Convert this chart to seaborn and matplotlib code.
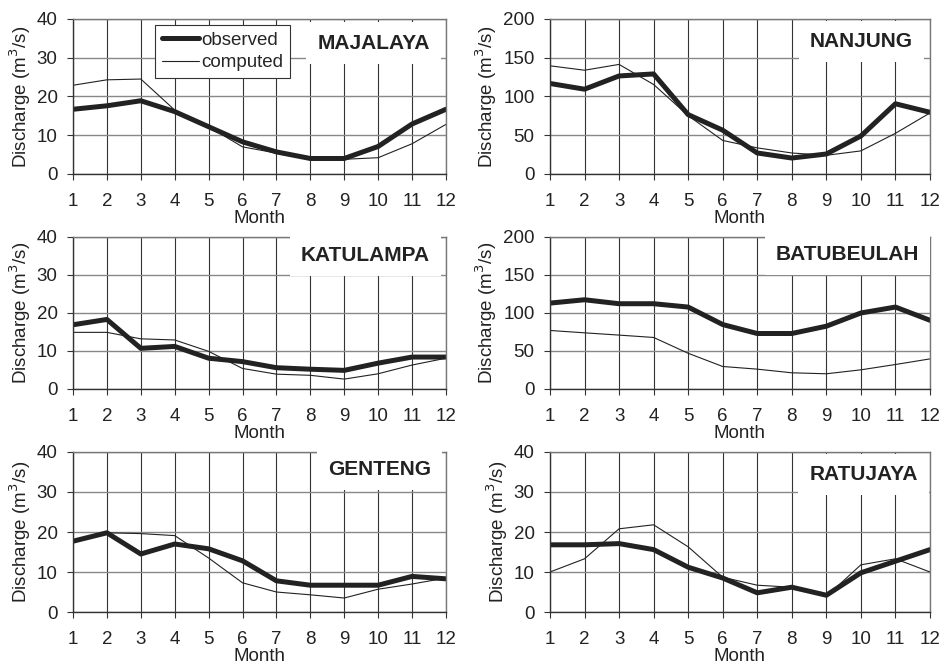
# Monthly discharge: observed vs computed at six stations
import pandas as pd
import seaborn as sns
import matplotlib
matplotlib.use("Agg")
import matplotlib.pyplot as plt

# ==========================
# Data
# ==========================
months = list(range(1, 13))

majalaya_obs = [16.7, 17.6, 18.9, 16.1, 12.2, 8.3, 5.7, 4.0, 4.0, 7.1, 12.9, 16.7]
majalaya_com = [22.9, 24.3, 24.5, 16.5, 12.2, 7.0, 5.4, 3.8, 3.8, 4.2, 7.8, 12.8]

nanjung_obs = [116.8, 109.4, 126.5, 129.1, 76.6, 56.5, 27.1, 20.6, 25.8, 49.0, 90.6, 79.6]
nanjung_com = [139.6, 133.9, 141.4, 115.5, 75.3, 43.3, 33.7, 27.1, 24.1, 29.8, 52.5, 78.8]

katulampa_obs = [16.9, 18.3, 10.7, 11.2, 8.1, 7.2, 5.6, 5.2, 4.9, 6.8, 8.4, 8.4]
katulampa_com = [14.9, 14.9, 13.2, 12.9, 9.9, 5.4, 3.9, 3.6, 2.6, 4.0, 6.3, 8.1]

batubeulah_obs = [113.0, 117.4, 112.2, 112.2, 107.8, 84.8, 73.0, 73.0, 82.6, 100.0, 107.8, 90.4]
batubeulah_com = [77.0, 73.9, 70.9, 67.8, 47.0, 29.6, 26.1, 21.3, 20.0, 25.2, 32.2, 39.6]

genteng_obs = [17.7, 19.8, 14.5, 17.0, 15.8, 12.8, 7.8, 6.7, 6.7, 6.7, 8.9, 8.3]
genteng_com = [17.5, 19.8, 19.6, 19.1, 13.5, 7.3, 5.0, 4.3, 3.5, 5.7, 7.0, 8.5]

ratujaya_obs = [16.8, 16.8, 17.1, 15.6, 11.2, 8.5, 4.8, 6.2, 4.2, 9.8, 12.7, 15.6]
ratujaya_com = [10.0, 13.3, 20.8, 21.8, 16.3, 8.7, 6.7, 6.2, 3.9, 11.8, 13.3, 10.0]

stations = ["MAJALAYA", "NANJUNG", "KATULAMPA", "BATUBEULAH", "GENTENG", "RATUJAYA"]
observed = [majalaya_obs, nanjung_obs, katulampa_obs, batubeulah_obs, genteng_obs, ratujaya_obs]
computed = [majalaya_com, nanjung_com, katulampa_com, batubeulah_com, genteng_com, ratujaya_com]
y_max = [40, 200, 40, 200, 40, 40]
y_step = [10, 50, 10, 50, 10, 10]

# ==========================
# Style
# ==========================
sns.set_style("white")
plt.rcParams["font.family"] = ["Liberation Sans", "DejaVu Sans"]

fig = plt.figure(figsize=(9.43, 6.71), dpi=100)

# axes boxes in figure fractions [left, bottom, width, height]
col_x = [(0.0774, 0.3955), (0.5832, 0.4030)]
row_y = [(0.7407, 0.2310), (0.4203, 0.2265), (0.0879, 0.2385)]
# where each station name sits inside its panel (axes fractions)
name_pos = [(0.957, 0.845), (0.955, 0.855), (0.957, 0.88),
            (0.972, 0.885), (0.96, 0.89), (0.968, 0.86)]

for i, name in enumerate(stations):
    r, c = divmod(i, 2)
    ax = fig.add_axes([col_x[c][0], row_y[r][0], col_x[c][1], row_y[r][1]])

    df = pd.DataFrame({
        "Month": months * 2,
        "Discharge": observed[i] + computed[i],
        "series": ["observed"] * 12 + ["computed"] * 12,
    })

    sns.lineplot(data=df, x="Month", y="Discharge", hue="series", size="series",
                 palette={"observed": "#222222", "computed": "#222222"},
                 sizes={"observed": 3.6, "computed": 0.8},
                 ax=ax, legend=(i == 0))

    ax.set_xlim(1, 12)
    ax.set_ylim(0, y_max[i])
    ax.set_xticks(months)
    ax.set_yticks(range(0, y_max[i] + 1, y_step[i]))

    # grid: dark vertical lines, grey horizontal lines
    ax.grid(axis="x", color="#333333", linewidth=0.8)
    ax.grid(axis="y", color="#888888", linewidth=1.0)
    ax.set_axisbelow(True)

    for side in ["top", "right"]:
        ax.spines[side].set_color("#777777")
        ax.spines[side].set_linewidth(1.0)
    for side in ["left", "bottom"]:
        ax.spines[side].set_color("#333333")
        ax.spines[side].set_linewidth(1.0)

    ax.tick_params(axis="both", direction="out", length=4, width=0.8,
                   color="#333333", labelcolor="#222222", labelsize=13.5,
                   bottom=True, left=True)
    ax.tick_params(axis="x", pad=10)
    ax.tick_params(axis="y", pad=7)

    ax.set_xlabel("Month", fontsize=13.5, labelpad=0, color="#222222")
    ax.set_ylabel("Discharge (m$^3$/s)", fontsize=13.5, labelpad=3, color="#222222")

    # station name in a white box (hides the grid behind it)
    ax.text(name_pos[i][0], name_pos[i][1], name, transform=ax.transAxes,
            ha="right", va="center", fontsize=15, fontweight="bold", color="#222222",
            bbox=dict(facecolor="white", edgecolor="none", pad=8), zorder=5)

    if i == 0:
        leg = ax.legend(loc="upper left", bbox_to_anchor=(0.22, 0.961),
                        fontsize=13.5, handlelength=2.0, handletextpad=0.1,
                        labelspacing=0.3, borderpad=0.35, fancybox=False,
                        framealpha=1, edgecolor="#333333", borderaxespad=0)
        leg.get_frame().set_linewidth(0.8)
        leg.set_zorder(6)

fig.savefig("out.png", dpi=100)
